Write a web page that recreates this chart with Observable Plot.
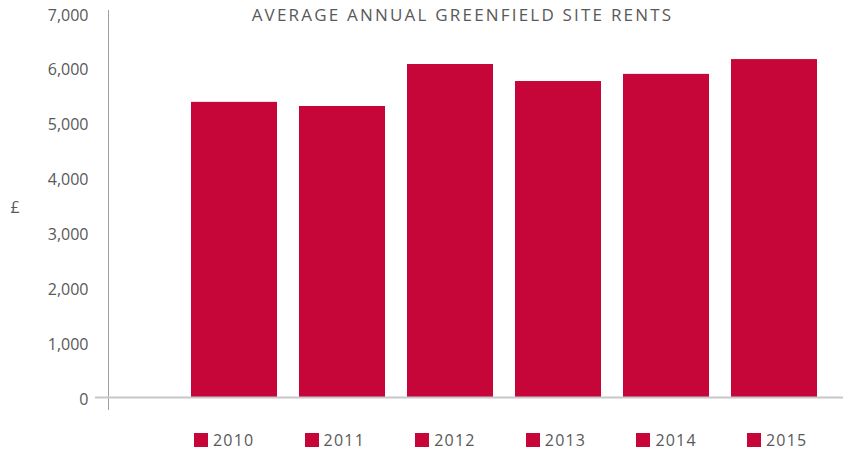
<!DOCTYPE html>
<html>
<head>
<meta charset="utf-8">
<script src="https://cdn.jsdelivr.net/npm/d3@7"></script>
<script src="https://cdn.jsdelivr.net/npm/@observablehq/plot@0.6"></script>
<style>
  body { margin: 0; background: #fff; font-family: "Open Sans", sans-serif; }
  #wrap { position: relative; width: 843px; height: 449px; }
  #chart svg { display: block; }
  #title { position: absolute; top: 3px; left: 0; width: 843px; padding-left: 82px; box-sizing: border-box; text-align: center; font-size: 17px; color: #595959; letter-spacing: 2.2px; white-space: nowrap; }
  #legend { position: absolute; top: 431px; left: 0; width: 843px; height: 17px; display: flex; padding-left: 194px; box-sizing: border-box; }
  .item { width: 110.6px; flex: 0 0 110.6px; display: flex; align-items: center; font-size: 16px; line-height: 16px; color: #595959; letter-spacing: 1.2px; height: 17px; }
  .sw { width: 14px; height: 14px; margin-right: 5px; flex: 0 0 14px; }
</style>
</head>
<body>
<div id="wrap">
  <div id="chart"></div>
  <div id="title">AVERAGE ANNUAL GREENFIELD SITE RENTS</div>
  <div id="legend"></div>
</div>
<script>
const years = ["2010", "2011", "2012", "2013", "2014", "2015"];
const rents = [5380, 5305, 6070, 5760, 5890, 6160];
const yTicks = [0, 1000, 2000, 3000, 4000, 5000, 6000, 7000];
const barColor = "#c60638";
const unitLabel = "£";

const data = years.map((y, i) => ({year: y, rent: rents[i]}));

const chart = Plot.plot({
  width: 843,
  height: 420,
  marginTop: 10,
  marginBottom: 23,
  marginLeft: 108,
  marginRight: 0,
  style: {fontFamily: "Open Sans, sans-serif", fontSize: "16px", color: "#595959", overflow: "visible"},
  x: {type: "band", domain: years, padding: 0.2066, insetLeft: 59.6, insetRight: 2.6, axis: null},
  y: {domain: [0, 7000], insetTop: 3, axis: null},
  marks: [
    Plot.frame({anchor: "left", stroke: "#a0a0a0", strokeWidth: 1, insetBottom: -12}),
    Plot.barY(data, {x: "year", y: "rent", fill: barColor}),
    Plot.ruleY([0], {stroke: "#c8c8c8", strokeWidth: 2, insetLeft: -13}),
    Plot.axisY({ticks: yTicks, tickFormat: d3.format(","), tickSize: 0, tickPadding: 20, label: null, dy: 2, fontSize: 16, fill: "#595959", style: "letter-spacing:1.3px"}),
    Plot.text([unitLabel], {frameAnchor: "left", dx: -98, dy: 4, fontSize: 16, fill: "#595959"})
  ]
});
document.getElementById("chart").appendChild(chart);

const legend = document.getElementById("legend");
years.forEach(y => {
  const it = document.createElement("div");
  it.className = "item";
  const sw = document.createElement("span");
  sw.className = "sw";
  sw.style.background = barColor;
  it.appendChild(sw);
  it.appendChild(document.createTextNode(y));
  legend.appendChild(it);
});
</script>
</body>
</html>
